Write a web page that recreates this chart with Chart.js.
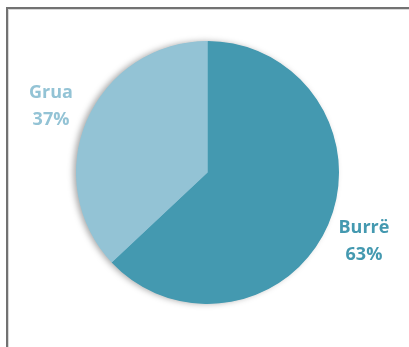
<!DOCTYPE html>
<html>
<head>
<meta charset="utf-8">
<script src="https://cdn.jsdelivr.net/npm/chart.js@4.4.0/dist/chart.umd.min.js"></script>
<style>
  html, body { margin: 0; padding: 0; background: #fff; overflow: hidden; }
  #wrap { position: relative; width: 409px; height: 347px; }
  #frame { position: absolute; left: 6px; top: 7px; width: 500px; height: 500px;
           border-left: 2px solid #727272; border-top: 2px solid #727272; }
  #frame2 { position: absolute; left: 8px; top: 9px; width: 500px; height: 500px;
           border-left: 1px solid #d8d8d8; border-top: 1px solid #d8d8d8; }
  canvas { position: absolute; left: 0; top: 0; }
</style>
</head>
<body>
<div id="wrap">
  <div id="frame"></div>
  <div id="frame2"></div>
  <canvas id="c" width="409" height="347"></canvas>
</div>
<script>
const categories = ["Burrë", "Grua"];
const values = [63, 37];
const labelsPct = ["63%", "37%"];
const colors = ["#4499B0", "#93C3D5"];

const shadowPlugin = {
  id: 'shadowPlugin',
  beforeDatasetsDraw(chart) {
    const meta = chart.getDatasetMeta(0);
    const arc = meta.data[0];
    if (!arc) return;
    const ctx = chart.ctx;
    ctx.save();
    ctx.shadowColor = 'rgba(0,0,0,0.35)';
    ctx.shadowBlur = 6;
    ctx.shadowOffsetX = -3;
    ctx.shadowOffsetY = 0;
    ctx.fillStyle = '#93C3D5';
    ctx.beginPath();
    ctx.arc(arc.x, arc.y, arc.outerRadius - 0.5, 0, Math.PI * 2);
    ctx.fill();
    ctx.restore();
  }
};

const labelPlugin = {
  id: 'labelPlugin',
  afterDatasetsDraw(chart) {
    const meta = chart.getDatasetMeta(0);
    const ctx = chart.ctx;
    ctx.save();
    ctx.font = 'bold 18px "Open Sans"';
    ctx.textAlign = 'center';
    ctx.textBaseline = 'middle';
    meta.data.forEach((arc, i) => {
      const mid = (arc.startAngle + arc.endAngle) / 2;
      const d = arc.outerRadius + 39;
      const x = arc.x + Math.cos(mid) * d;
      const y = arc.y + Math.sin(mid) * d;
      ctx.fillStyle = colors[i];
      ctx.fillText(categories[i], x, y - 12);
      ctx.fillText(labelsPct[i], x, y + 15);
    });
    ctx.restore();
  }
};

new Chart(document.getElementById('c'), {
  type: 'pie',
  data: {
    labels: categories,
    datasets: [{
      data: values,
      backgroundColor: colors,
      borderWidth: 0
    }]
  },
  options: {
    responsive: false,
    animation: false,
    layout: { padding: { left: 76, right: 70, top: 41, bottom: 43 } },
    plugins: { legend: { display: false }, tooltip: { enabled: false } }
  },
  plugins: [shadowPlugin, labelPlugin]
});
</script>
</body>
</html>
